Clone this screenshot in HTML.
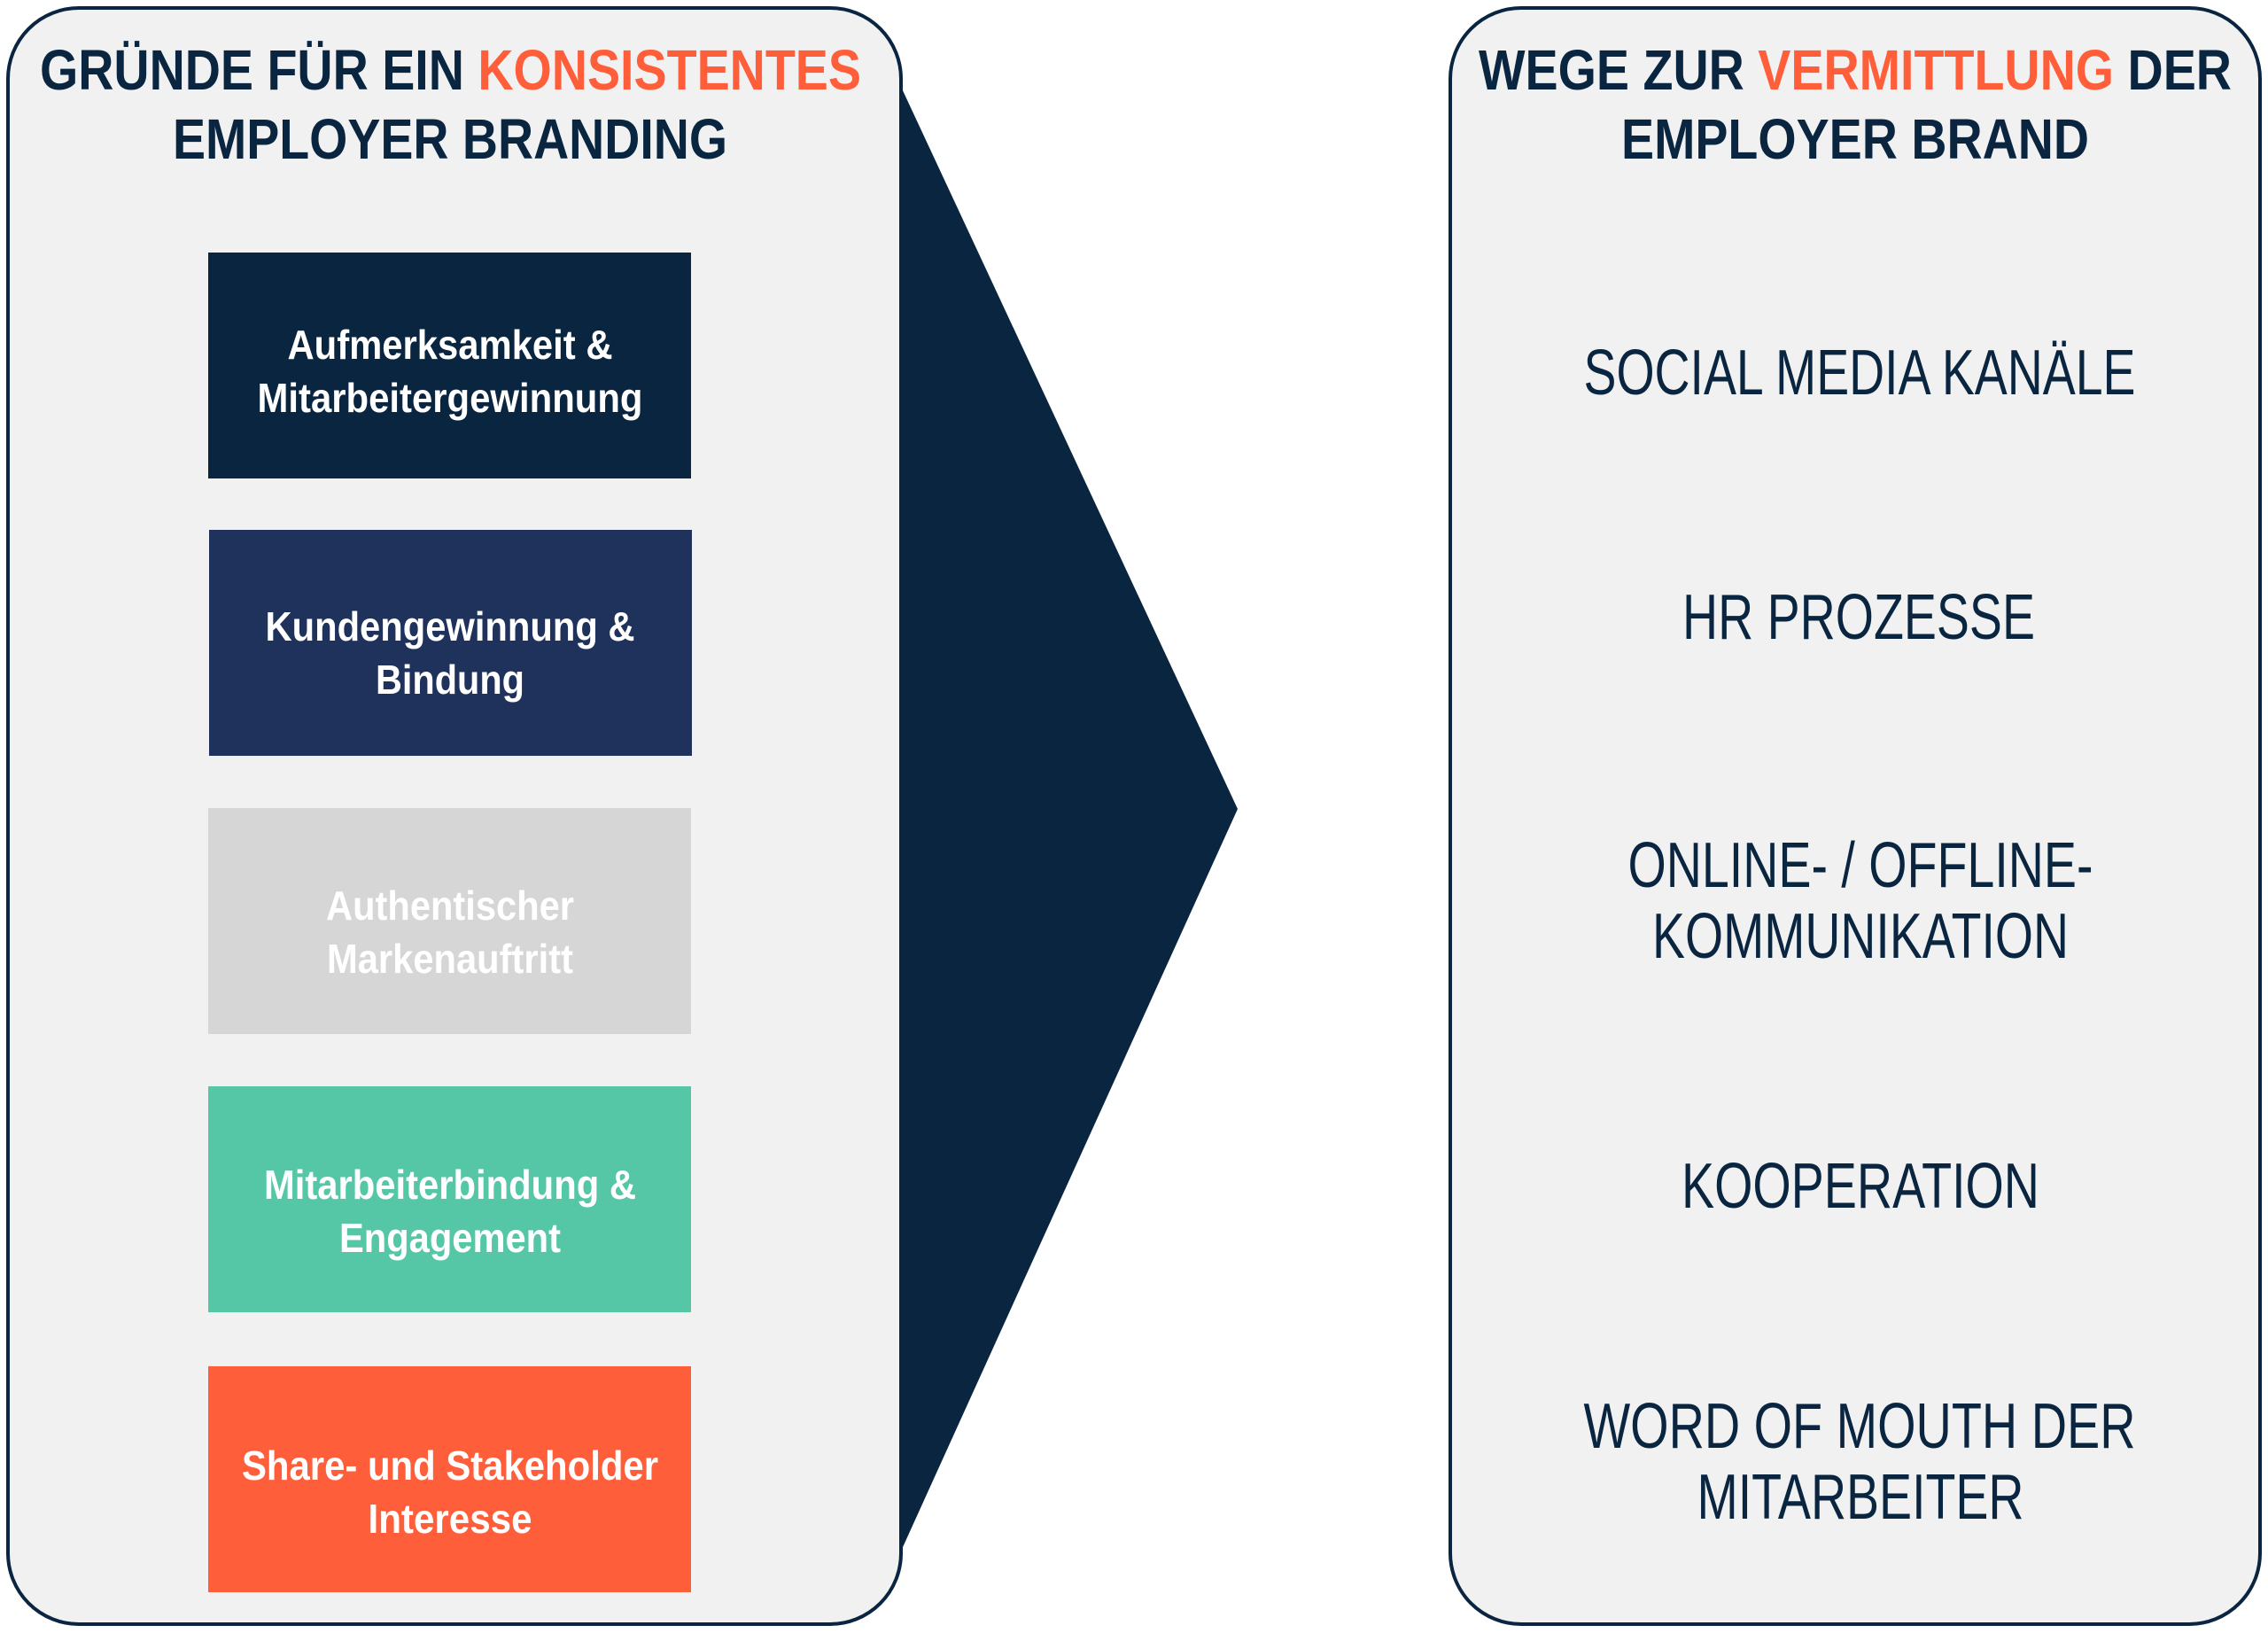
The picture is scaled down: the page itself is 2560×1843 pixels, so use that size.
<!DOCTYPE html>
<html><head><meta charset="utf-8"><style>html,body{margin:0;padding:0;background:#fff}svg{display:block}</style></head>
<body>
<svg width="2560" height="1843" viewBox="0 0 2560 1843" xmlns="http://www.w3.org/2000/svg" font-family="'Liberation Sans', sans-serif">
<rect width="2560" height="1843" fill="#fff"/>
<polygon points="990,40 1397,913 990,1810" fill="#0a2540"/>
<rect x="9" y="9" width="1008" height="1824" rx="80" ry="80" fill="#f1f1f1" stroke="#0a2540" stroke-width="4"/>
<rect x="1637" y="9" width="914" height="1824" rx="80" ry="80" fill="#f1f1f1" stroke="#0a2540" stroke-width="4"/>
<g font-weight="bold" font-size="64" fill="#0a2540">
<text x="45" y="101" textLength="927" lengthAdjust="spacingAndGlyphs">GRÜNDE FÜR EIN <tspan fill="#ff5e3a">KONSISTENTES</tspan></text>
<text x="195" y="179" textLength="626" lengthAdjust="spacingAndGlyphs">EMPLOYER BRANDING</text>
<text x="1669" y="101" textLength="850" lengthAdjust="spacingAndGlyphs">WEGE ZUR <tspan fill="#ff5e3a">VERMITTLUNG</tspan> DER</text>
<text x="1830" y="179" textLength="528" lengthAdjust="spacingAndGlyphs">EMPLOYER BRAND</text>
</g>
<rect x="235" y="285" width="545" height="255" fill="#0a2540"/>
<rect x="236" y="598" width="545" height="255" fill="#1e325c"/>
<rect x="235" y="912" width="545" height="255" fill="#d6d6d6"/>
<rect x="235" y="1226" width="545" height="255" fill="#55c7a7"/>
<rect x="235" y="1542" width="545" height="255" fill="#ff5e3a"/>
<g font-weight="bold" font-size="46" fill="#fff" text-anchor="middle">
<text x="508" y="405" textLength="367" lengthAdjust="spacingAndGlyphs">Aufmerksamkeit &amp;</text>
<text x="508" y="465" textLength="435" lengthAdjust="spacingAndGlyphs">Mitarbeitergewinnung</text>
<text x="508" y="723" textLength="417" lengthAdjust="spacingAndGlyphs">Kundengewinnung &amp;</text>
<text x="508" y="783" textLength="168" lengthAdjust="spacingAndGlyphs">Bindung</text>
<text x="508" y="1038" textLength="280" lengthAdjust="spacingAndGlyphs">Authentischer</text>
<text x="508" y="1098" textLength="278" lengthAdjust="spacingAndGlyphs">Markenauftritt</text>
<text x="508" y="1353" textLength="420" lengthAdjust="spacingAndGlyphs">Mitarbeiterbindung &amp;</text>
<text x="508" y="1413" textLength="250" lengthAdjust="spacingAndGlyphs">Engagement</text>
<text x="508" y="1670" textLength="470" lengthAdjust="spacingAndGlyphs">Share- und Stakeholder</text>
<text x="508" y="1730" textLength="185" lengthAdjust="spacingAndGlyphs">Interesse</text>
</g>
<g font-size="72" fill="#0a2540" text-anchor="middle">
<text x="2099" y="445" textLength="623" lengthAdjust="spacingAndGlyphs">SOCIAL MEDIA KANÄLE</text>
<text x="2098" y="721" textLength="398" lengthAdjust="spacingAndGlyphs">HR PROZESSE</text>
<text x="2100" y="1001" textLength="525" lengthAdjust="spacingAndGlyphs">ONLINE- / OFFLINE-</text>
<text x="2100" y="1081" textLength="470" lengthAdjust="spacingAndGlyphs">KOMMUNIKATION</text>
<text x="2100" y="1363" textLength="404" lengthAdjust="spacingAndGlyphs">KOOPERATION</text>
<text x="2099" y="1634" textLength="623" lengthAdjust="spacingAndGlyphs">WORD OF MOUTH DER</text>
<text x="2100" y="1714" textLength="369" lengthAdjust="spacingAndGlyphs">MITARBEITER</text>
</g>
</svg>
</body></html>
